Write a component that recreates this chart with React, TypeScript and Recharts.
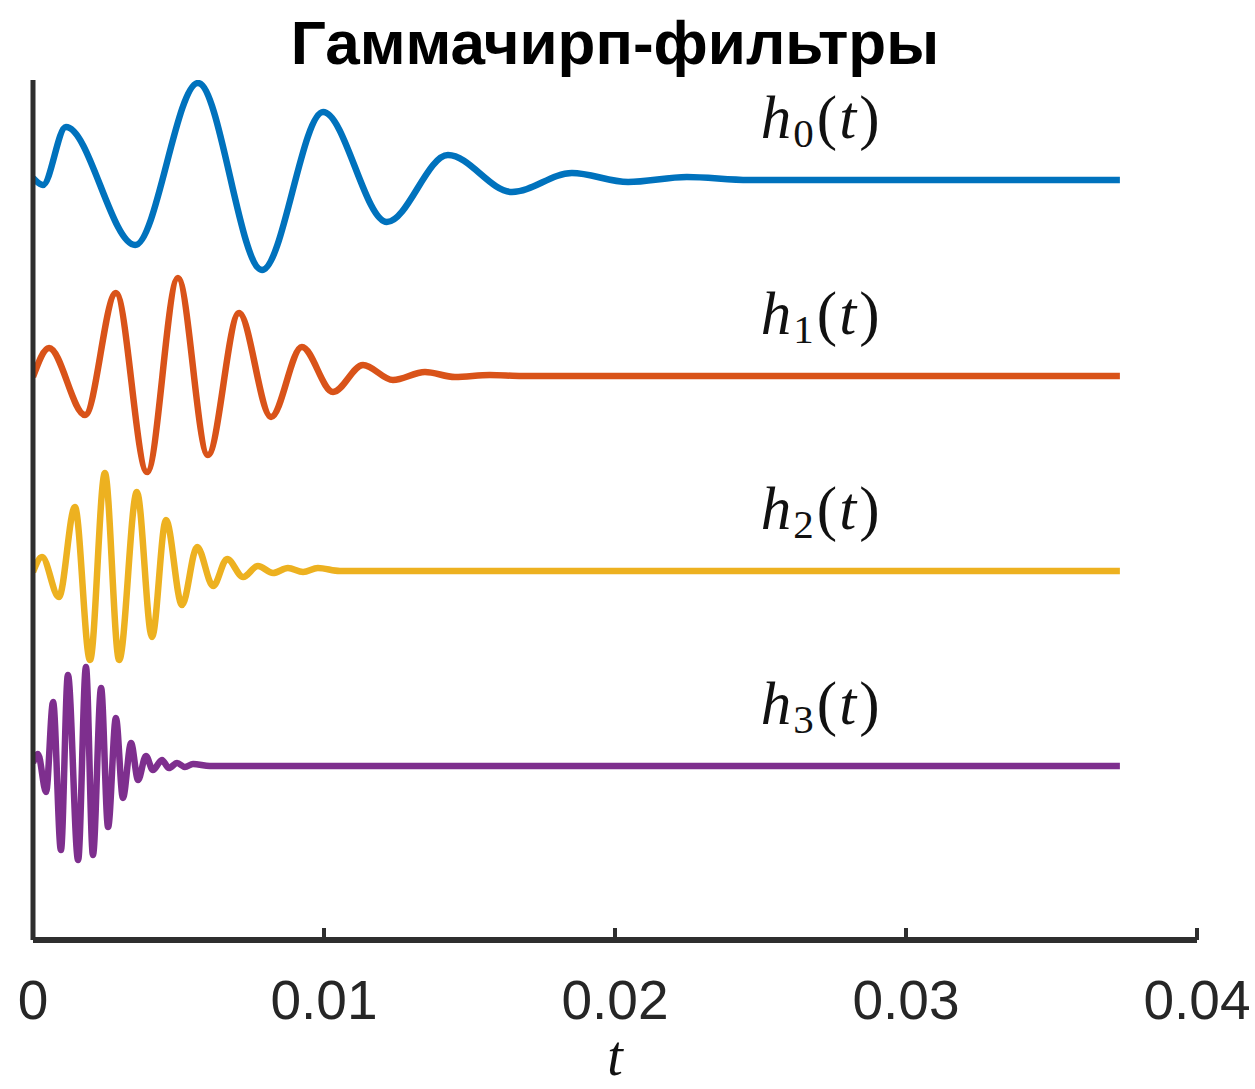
import React from 'react';
import { LineChart, Line, XAxis, YAxis, ReferenceDot } from 'recharts';

// ---- Data ----
const X_TICKS = [0, 0.01, 0.02, 0.03, 0.04];
const TITLE = 'Гаммачирп-фильтры';
const X_LABEL = 't';

const T_H0 = [0, 0.00034, 0.00113, 0.00351, 0.00567, 0.00787, 0.00997, 0.01216, 0.01426, 0.01646, 0.01852, 0.02045, 0.02247, 0.0246, 0.03735];
const V_H0 = [0.02, -0.05, 0.53, -0.65, 0.97, -0.9, 0.68, -0.42, 0.25, -0.12, 0.07, -0.02, 0.03, 0, 0];

const T_H1 = [0, 0.00055, 0.00179, 0.00285, 0.00392, 0.00498, 0.00601, 0.00708, 0.00818, 0.00924, 0.01031, 0.01134, 0.01237, 0.01347, 0.0145, 0.0157, 0.0168, 0.03735];
const V_H1 = [-0.01, 0.28, -0.39, 0.83, -0.96, 0.98, -0.79, 0.63, -0.41, 0.29, -0.16, 0.11, -0.04, 0.04, -0.01, 0.01, 0, 0];

const T_H2 = [0, 0.00031, 0.00089, 0.00144, 0.00196, 0.00247, 0.00296, 0.00357, 0.00409, 0.00457, 0.00512, 0.00564, 0.00619, 0.00667, 0.00722, 0.00773, 0.00825, 0.00876, 0.00928, 0.00979, 0.01055, 0.03735];
const V_H2 = [-0.01, 0.14, -0.26, 0.64, -0.89, 0.98, -0.89, 0.79, -0.66, 0.51, -0.34, 0.24, -0.15, 0.12, -0.06, 0.05, -0.02, 0.03, -0.01, 0.03, 0, 0];

const T_H3 = [0, 0.00017, 0.00045, 0.00069, 0.00096, 0.0012, 0.00155, 0.00182, 0.00206, 0.00234, 0.00258, 0.00285, 0.00309, 0.00337, 0.00361, 0.00388, 0.00412, 0.00443, 0.00467, 0.00495, 0.00522, 0.0055, 0.00608, 0.03735];
const V_H3 = [0.03, 0.12, -0.26, 0.64, -0.84, 0.91, -0.94, 0.99, -0.89, 0.78, -0.61, 0.48, -0.32, 0.23, -0.14, 0.1, -0.04, 0.06, -0.02, 0.03, -0.01, 0.02, 0, 0];

const SERIES_NAMES = ['0', '1', '2', '3'];
const OFFSETS = [0, -1.96, -3.91, -5.86];
const LABEL_T = 0.02705;

const COLORS = ['#0072BD', '#D95319', '#EDB120', '#7E2F8E'];

const SERIES = [
  [T_H0, V_H0],
  [T_H1, V_H1],
  [T_H2, V_H2],
  [T_H3, V_H3],
].map(([ts, vs], i) => ts.map((t, j) => ({ t, v: vs[j] + OFFSETS[i] })));

const fmt = (v: number) => (v === 0 ? '0' : String(Number(v.toFixed(2))));

const AXIS_COLOR = '#2e2e2e';

const Tick = (props: any) => {
  const { x, y, payload } = props;
  return (
    <g>
      <line x1={x} x2={x} y1={y} y2={y - 12} stroke={AXIS_COLOR} strokeWidth={4} />
      <text
        x={x}
        y={y + 79}
        textAnchor="middle"
        fontSize={55}
        fontFamily="'Liberation Sans', Arial, sans-serif"
        fill="#262626"
      >
        {fmt(payload.value)}
      </text>
    </g>
  );
};

const makeLabel = (sub: string) => (props: any) => {
  const vb = props.viewBox || {};
  const cx = vb.x + (vb.width || 0) / 2;
  const cy = vb.y + (vb.height || 0) / 2;
  return (
    <text
      x={cx}
      y={cy - 42}
      textAnchor="middle"
      fontSize={61}
      fontFamily="'Liberation Serif', 'Times New Roman', serif"
      fill="#111"
    >
      <tspan fontStyle="italic">h</tspan>
      <tspan fontSize={41} dy={9} dx={2}>{sub}</tspan>
      <tspan dy={-9} dx={3}>(</tspan>
      <tspan fontStyle="italic" dx={2}>t</tspan>
      <tspan dx={3}>)</tspan>
    </text>
  );
};

export default function App() {
  return (
    <div style={{ position: 'absolute', left: 0, top: 0, width: 1255, height: 1089, background: '#fff' }}>
      <LineChart width={1255} height={1089} margin={{ top: 80, right: 58, bottom: 89, left: 13 }}>
        <XAxis
          type="number"
          dataKey="t"
          domain={[0, 0.04]}
          ticks={X_TICKS}
          allowDataOverflow
          height={60}
          tickSize={0}
          tickMargin={0}
          tickLine={false}
          axisLine={{ stroke: AXIS_COLOR, strokeWidth: 6 }}
          tick={<Tick />}
          interval={0}
        />
        <YAxis
          type="number"
          dataKey="v"
          domain={[-7.6, 1.0]}
          allowDataOverflow
          width={20}
          tick={false}
          tickLine={false}
          axisLine={{ stroke: AXIS_COLOR, strokeWidth: 5 }}
        />
        {SERIES.map((d, i) => (
          <Line
            key={i}
            data={d}
            dataKey="v"
            type="monotone"
            stroke={COLORS[i]}
            strokeWidth={6.5}
            dot={false}
            activeDot={false}
            isAnimationActive={false}
          />
        ))}
        {SERIES_NAMES.map((s, i) => (
          <ReferenceDot
            key={'l' + i}
            x={LABEL_T}
            y={OFFSETS[i]}
            r={0}
            fill="none"
            stroke="none"
            label={{ content: makeLabel(s) }}
          />
        ))}
      </LineChart>
      <div
        style={{
          position: 'absolute',
          left: 0,
          top: 12,
          width: 1230,
          textAlign: 'center',
          fontFamily: "'Liberation Sans', Arial, sans-serif",
          fontWeight: 'bold',
          fontSize: 62,
          lineHeight: '62px',
          color: '#000',
        }}
      >
        {TITLE}
      </div>
      <div
        style={{
          position: 'absolute',
          left: 0,
          top: 1028,
          width: 1230,
          textAlign: 'center',
          fontFamily: "'Liberation Serif', 'Times New Roman', serif",
          fontStyle: 'italic',
          fontSize: 56,
          lineHeight: '56px',
          color: '#111',
        }}
      >
        {X_LABEL}
      </div>
    </div>
  );
}
